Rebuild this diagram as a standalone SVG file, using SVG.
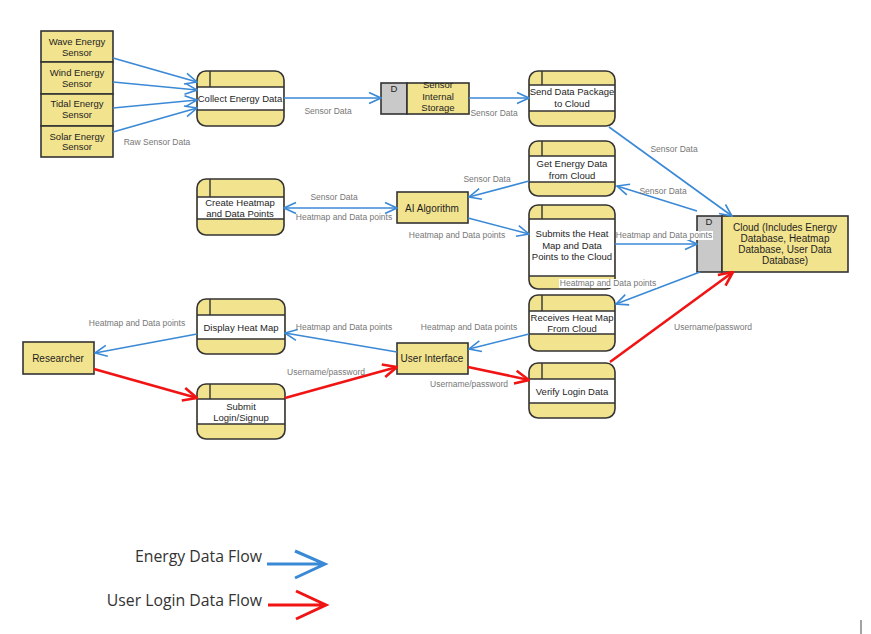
<svg xmlns="http://www.w3.org/2000/svg" width="871" height="634" viewBox="0 0 871 634">
<style>
.pf{fill:#f2e38f;stroke:none}
.pw{fill:#ffffff;stroke:none}
.po{fill:none;stroke:#333;stroke-width:1.6}
.ln{stroke:#333;stroke-width:1.4}
.box{fill:#f2e38f;stroke:#333;stroke-width:1.6}
.gray{fill:#c9c9c9;stroke:#333;stroke-width:1.6}
.t{font-family:"Liberation Sans",Arial,sans-serif;font-size:9.5px;fill:#1e1e1e;text-anchor:middle}
.tb{font-family:"Liberation Sans",Arial,sans-serif;font-size:10px;fill:#1e1e1e;text-anchor:middle}
.lb{font-family:"Liberation Sans",Arial,sans-serif;font-size:8.5px;fill:#777;text-anchor:middle}
.b{fill:none;stroke:#3a89d6;stroke-width:1.6;marker-end:url(#ab)}
.r{fill:none;stroke:#f01414;stroke-width:2.6;marker-end:url(#ar)}
.lg{font-family:"Open Sans","Noto Sans",sans-serif;font-size:15.8px;fill:#333;text-anchor:end}
</style>
<defs>
<marker id="ab" viewBox="0 0 14 14" refX="13" refY="7" markerWidth="14" markerHeight="14" markerUnits="userSpaceOnUse" orient="auto-start-reverse">
<path d="M1,1.5 L13,7 L1,12.5" fill="none" stroke="#3a89d6" stroke-width="1.6"/>
</marker>
<marker id="ar" viewBox="0 0 16 16" refX="15" refY="8" markerWidth="16" markerHeight="16" markerUnits="userSpaceOnUse" orient="auto">
<path d="M1,1.5 L15,8 L1,14.5" fill="none" stroke="#f01414" stroke-width="2.6"/>
</marker>
</defs>
<rect width="871" height="634" fill="#ffffff"/>

<g id="sensors">
<rect class="box" x="41" y="31" width="72" height="31"/>
<text class="t" x="77" y="45">Wave Energy</text><text class="t" x="77" y="56">Sensor</text>
<rect class="box" x="41" y="62" width="72" height="32"/>
<text class="t" x="77" y="76">Wind Energy</text><text class="t" x="77" y="87">Sensor</text>
<rect class="box" x="41" y="94" width="72" height="32"/>
<text class="t" x="77" y="107">Tidal Energy</text><text class="t" x="77" y="118">Sensor</text>
<rect class="box" x="41" y="126" width="72" height="31"/>
<text class="t" x="77" y="140">Solar Energy</text><text class="t" x="77" y="150">Sensor</text>
</g>

<g id="collect">
<rect class="pf" x="197" y="71" width="87" height="55" rx="9"/>
<rect class="pw" x="198" y="87" width="85" height="23"/>
<line class="ln" x1="197" y1="87" x2="284" y2="87"/><line class="ln" x1="197" y1="110" x2="284" y2="110"/><line class="ln" x1="210" y1="71" x2="210" y2="87"/>
<rect class="po" x="197" y="71" width="87" height="55" rx="9"/>
<text class="t" x="240" y="101.5">Collect Energy Data</text>
</g>

<g id="storage">
<rect class="gray" x="381" y="83" width="26" height="31"/>
<rect class="box" x="407" y="83" width="62" height="31"/>
<text class="t" x="394" y="92">D</text>
<text class="t" x="438" y="88">Sensor</text><text class="t" x="438" y="100">Internal</text><text class="t" x="438" y="111">Storage</text>
</g>

<g id="send">
<rect class="pf" x="529" y="71" width="86" height="55" rx="9"/>
<rect class="pw" x="530" y="85" width="84" height="26"/>
<line class="ln" x1="529" y1="85" x2="615" y2="85"/><line class="ln" x1="529" y1="111" x2="615" y2="111"/><line class="ln" x1="542" y1="71" x2="542" y2="85"/>
<rect class="po" x="529" y="71" width="86" height="55" rx="9"/>
<text class="t" x="572" y="95">Send Data Package</text><text class="t" x="572" y="107">to Cloud</text>
</g>

<g id="get">
<rect class="pf" x="529" y="141" width="86" height="55" rx="9"/>
<rect class="pw" x="530" y="156" width="84" height="26"/>
<line class="ln" x1="529" y1="156" x2="615" y2="156"/><line class="ln" x1="529" y1="182" x2="615" y2="182"/><line class="ln" x1="542" y1="141" x2="542" y2="156"/>
<rect class="po" x="529" y="141" width="86" height="55" rx="9"/>
<text class="t" x="572" y="166.5">Get Energy Data</text><text class="t" x="572" y="178.5">from Cloud</text>
</g>

<g id="submits">
<rect class="pf" x="529" y="205" width="86" height="84" rx="9"/>
<rect class="pw" x="530" y="219" width="84" height="57"/>
<line class="ln" x1="529" y1="219" x2="615" y2="219"/><line class="ln" x1="529" y1="276" x2="615" y2="276"/><line class="ln" x1="542" y1="205" x2="542" y2="219"/>
<rect class="po" x="529" y="205" width="86" height="84" rx="9"/>
<text class="t" x="572" y="237">Submits the Heat</text><text class="t" x="572" y="248.5">Map and Data</text><text class="t" x="572" y="260">Points to the Cloud</text>
</g>

<g id="receives">
<rect class="pf" x="529" y="295" width="86" height="56" rx="9"/>
<rect class="pw" x="530" y="311" width="84" height="23"/>
<line class="ln" x1="529" y1="311" x2="615" y2="311"/><line class="ln" x1="529" y1="334" x2="615" y2="334"/><line class="ln" x1="542" y1="295" x2="542" y2="311"/>
<rect class="po" x="529" y="295" width="86" height="56" rx="9"/>
<text class="t" x="572" y="320.5">Receives Heat Map</text><text class="t" x="572" y="332">From Cloud</text>
</g>

<g id="verify">
<rect class="pf" x="529" y="363" width="86" height="55" rx="9"/>
<rect class="pw" x="530" y="379" width="84" height="24"/>
<line class="ln" x1="529" y1="379" x2="615" y2="379"/><line class="ln" x1="529" y1="403" x2="615" y2="403"/><line class="ln" x1="542" y1="363" x2="542" y2="379"/>
<rect class="po" x="529" y="363" width="86" height="55" rx="9"/>
<text class="t" x="572" y="394.5">Verify Login Data</text>
</g>

<g id="create">
<rect class="pf" x="197" y="179" width="87" height="56" rx="9"/>
<rect class="pw" x="198" y="197" width="85" height="22"/>
<line class="ln" x1="197" y1="197" x2="284" y2="197"/><line class="ln" x1="197" y1="219" x2="284" y2="219"/><line class="ln" x1="210" y1="179" x2="210" y2="197"/>
<rect class="po" x="197" y="179" width="87" height="56" rx="9"/>
<text class="t" x="240" y="205.5">Create Heatmap</text><text class="t" x="240" y="216.5">and Data Points</text>
</g>

<g id="ai">
<rect class="box" x="397" y="192" width="71" height="31"/>
<text class="tb" x="432" y="211.5">AI Algorithm</text>
</g>

<g id="cloud">
<rect class="gray" x="697" y="216" width="25" height="56"/>
<rect class="box" x="722" y="216" width="126" height="56"/>
<text class="t" x="709" y="225">D</text>
<text class="tb" x="785" y="231">Cloud (Includes Energy</text>
<text class="tb" x="785" y="242">Database, Heatmap</text>
<text class="tb" x="785" y="253">Database, User Data</text>
<text class="tb" x="785" y="264">Database)</text>
</g>

<g id="display">
<rect class="pf" x="197" y="299" width="88" height="55" rx="9"/>
<rect class="pw" x="198" y="315" width="86" height="24"/>
<line class="ln" x1="197" y1="315" x2="285" y2="315"/><line class="ln" x1="197" y1="339" x2="285" y2="339"/><line class="ln" x1="210" y1="299" x2="210" y2="315"/>
<rect class="po" x="197" y="299" width="88" height="55" rx="9"/>
<text class="t" x="241" y="330.5">Display Heat Map</text>
</g>

<g id="submit">
<rect class="pf" x="197" y="384" width="88" height="55" rx="9"/>
<rect class="pw" x="198" y="399" width="86" height="25"/>
<line class="ln" x1="197" y1="399" x2="285" y2="399"/><line class="ln" x1="197" y1="424" x2="285" y2="424"/><line class="ln" x1="210" y1="384" x2="210" y2="399"/>
<rect class="po" x="197" y="384" width="88" height="55" rx="9"/>
<text class="t" x="241" y="409.5">Submit</text><text class="t" x="241" y="420.5">Login/Signup</text>
</g>

<g id="ui">
<rect class="box" x="397" y="343" width="71" height="31"/>
<text class="tb" x="432" y="361.5">User Interface</text>
</g>

<g id="researcher">
<rect class="box" x="23" y="342" width="71" height="32"/>
<text class="tb" x="58" y="361.5">Researcher</text>
</g>

<g id="connectors">
<line class="b" x1="113" y1="58" x2="197" y2="82"/>
<line class="b" x1="113" y1="82" x2="197" y2="90"/>
<line class="b" x1="113" y1="108" x2="197" y2="100"/>
<line class="b" x1="113" y1="132" x2="197" y2="108"/>
<text class="lb" x="157" y="145">Raw Sensor Data</text>
<line class="b" x1="284" y1="98" x2="381" y2="98"/>
<text class="lb" x="328" y="114">Sensor Data</text>
<line class="b" x1="469" y1="98" x2="529" y2="98"/>
<text class="lb" x="494" y="116">Sensor Data</text>
<line class="b" x1="609" y1="127" x2="732" y2="216"/>
<text class="lb" x="674" y="152">Sensor Data</text>
<line class="b" x1="697" y1="211" x2="617" y2="186"/>
<text class="lb" x="663" y="194">Sensor Data</text>
<line class="b" x1="529" y1="181" x2="469" y2="197"/>
<text class="lb" x="487" y="182">Sensor Data</text>
<line class="b" x1="284" y1="208" x2="397" y2="208" marker-start="url(#ab)"/>
<text class="lb" x="334" y="200">Sensor Data</text>
<text class="lb" x="344" y="220">Heatmap and Data points</text>
<line class="b" x1="468" y1="218" x2="529" y2="234"/>
<text class="lb" x="457" y="238">Heatmap and Data points</text>
<line class="b" x1="615" y1="244" x2="697" y2="244"/>
<rect x="616" y="231" width="97" height="9" fill="#ffffff"/>
<text class="lb" x="664" y="238">Heatmap and Data points</text>
<line class="b" x1="700" y1="272" x2="616" y2="304"/>
<rect x="559" y="279" width="98" height="9" fill="#ffffff"/>
<text class="lb" x="608" y="286">Heatmap and Data points</text>
<line class="b" x1="529" y1="334" x2="469" y2="349"/>
<text class="lb" x="469" y="330">Heatmap and Data points</text>
<line class="b" x1="397" y1="352" x2="285" y2="333"/>
<text class="lb" x="344" y="330">Heatmap and Data points</text>
<line class="b" x1="197" y1="334" x2="95" y2="353"/>
<text class="lb" x="137" y="326">Heatmap and Data points</text>
<line class="r" x1="94" y1="369" x2="197" y2="398"/>
<line class="r" x1="285" y1="398" x2="397" y2="367"/>
<text class="lb" x="326" y="375">Username/password</text>
<line class="r" x1="468" y1="367" x2="529" y2="380"/>
<text class="lb" x="469" y="387">Username/password</text>
<line class="r" x1="610" y1="362" x2="733" y2="272"/>
<text class="lb" x="713" y="330">Username/password</text>
</g>

<g id="legend">
<text class="lg" x="262" y="562">Energy Data Flow</text>
<path d="M267,564 L324,564 M295,551 L325,564 L295,578" fill="none" stroke="#3a89d6" stroke-width="3"/>
<text class="lg" x="262" y="606">User Login Data Flow</text>
<path d="M268,605 L325,605 M296,591 L326,605 L296,619" fill="none" stroke="#f01414" stroke-width="3"/>
</g>
<line x1="861" y1="620" x2="861" y2="634" stroke="#666" stroke-width="1.2"/>
</svg>
